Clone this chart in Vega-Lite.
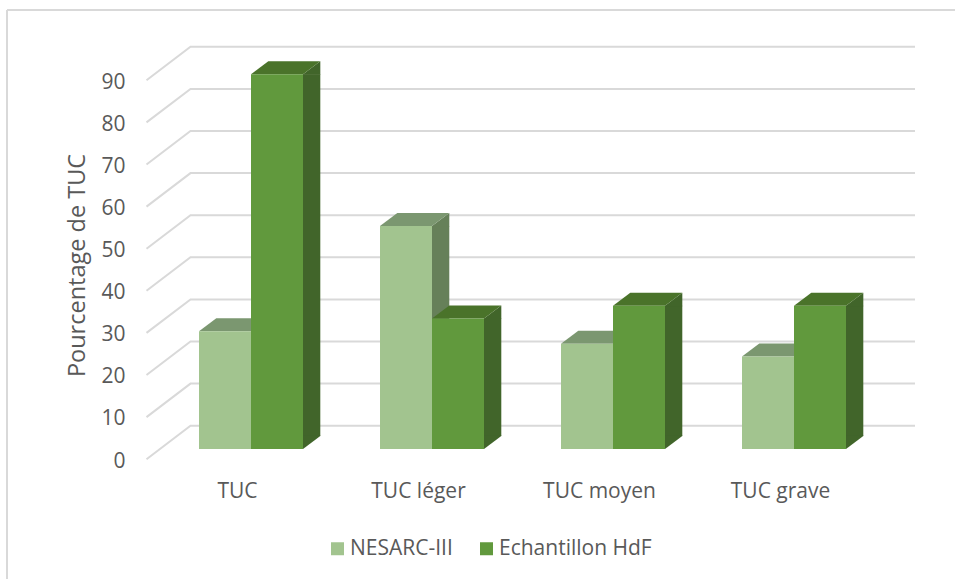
{
"$schema":"https://vega.github.io/schema/vega-lite/v6.json",
"width":948,"height":569,
"autosize":{"type":"none"},
"padding":{"left":7,"top":10,"right":0,"bottom":0},
"background":"#ffffff",
"view":{"stroke":null},
"config":{"font":"Open Sans"},
"layer":[
{"data":{"values":[{"a":1}]},"mark":{"type":"rule","stroke":"#D9D9D9","strokeWidth":2},"encoding":{"y":{"datum":104.28,"type":"quantitative","title":"Pourcentage de TUC","scale":{"domain":[-30.88,104.28],"range":[569,0],"nice":false,"zero":false},
  "axis":{"orient":"left","offset":-120,"values":[0,10,20,30,40,50,60,70,80,90],"ticks":false,"domain":false,"grid":false,"labelFontSize":21,"labelColor":"#595959","labelPadding":2,"labelOffset":12,"labelFont":"Open Sans","titleFontSize":23.5,"titleFontWeight":"normal","titleColor":"#595959","titleFont":"Open Sans","titleX":-38,"titleY":255}}}},
{"data":{"values":[{"a":1}]},"mark":{"type":"rule","stroke":"#D9D9D9","strokeWidth":2},"encoding":{"x":{"value":0}}},
{"data":{"values":[{"v":0},{"v":10},{"v":20},{"v":30},{"v":40},{"v":50},{"v":60},{"v":70},{"v":80},{"v":90}]},
 "mark":{"type":"point","shape":"M-104.5,10.2 L-60.5,-23.3 L664,-23.3","size":4,"filled":false,"stroke":"#D9D9D9","strokeWidth":2,"opacity":1},
 "encoding":{"x":{"datum":"TUC","type":"nominal","title":null,
  "scale":{"domain":["TUC","TUC léger","TUC moyen","TUC grave"],"range":[153.5,877.5],"paddingInner":0.4254,"paddingOuter":0.2127},
  "axis":{"orient":"bottom","offset":-100,"labelAngle":0,"ticks":false,"domain":false,"grid":false,"labelFontSize":21,"labelColor":"#595959","labelBaseline":"middle","labelPadding":12,"labelOffset":-13.5,"labelFont":"Open Sans"}},"y":{"field":"v","type":"quantitative","title":"Pourcentage de TUC"}}},
{"data":{"values":[
{"cat":"TUC","series":"NESARC-III","value":28},
{"cat":"TUC","series":"Echantillon HdF","value":89},
{"cat":"TUC léger","series":"NESARC-III","value":53},
{"cat":"TUC léger","series":"Echantillon HdF","value":31},
{"cat":"TUC moyen","series":"NESARC-III","value":25},
{"cat":"TUC moyen","series":"Echantillon HdF","value":34},
{"cat":"TUC grave","series":"NESARC-III","value":22},
{"cat":"TUC grave","series":"Echantillon HdF","value":34}
]},
"encoding":{
 "x":{"field":"cat","type":"nominal","sort":null,"title":null},
 "xOffset":{"field":"series","type":"nominal","sort":null,"scale":{"domain":["NESARC-III","Echantillon HdF"],"paddingInner":0,"paddingOuter":0}},
 "y":{"field":"value","type":"quantitative","stack":null,"title":"Pourcentage de TUC"}
},
"layer":[
 {"transform":[{"filter":"datum.series === 'NESARC-III'"}],"layer":[
  {"mark":{"type":"bar","size":17.3,"xOffset":8.65,"fill":"#668059"},"encoding":{"xOffset":null,"y2":{"datum":3.09}}},
  {"mark":{"type":"point","shape":"M26,0.5 L26,0 L43.3,-13 L43.3,0.5 Z","size":4,"filled":true,"fill":"#668059","opacity":1}},
  {"mark":{"type":"point","shape":"M26,0 L26,-13.5 L43.3,-13.5 L43.3,-13 Z","size":4,"filled":true,"fill":"#668059","opacity":1},"encoding":{"y":{"datum":0,"type":"quantitative","title":"Pourcentage de TUC"}}},
  {"mark":{"type":"point","shape":"M-26,0 L-8.7,-13 L43.3,-13 L26,0 Z","size":4,"filled":true,"fill":"#7B9770","opacity":1}},
  {"mark":{"type":"bar"},"encoding":{"y2":{"datum":0},"color":{"field":"series","type":"nominal","sort":null,"scale":{"domain":["NESARC-III","Echantillon HdF"],"range":["#A2C48F","#61993D"]},"legend":{"orient":"none","legendX":320,"legendY":528,"direction":"horizontal","title":null,"symbolType":"square","symbolSize":169,"symbolStrokeWidth":0,"labelFontSize":21,"labelColor":"#595959","labelFont":"Open Sans","labelOffset":2,"columnPadding":23,"columns":2}}}}
 ]},
 {"transform":[{"filter":"datum.series === 'Echantillon HdF'"}],"layer":[
  {"mark":{"type":"bar","size":17.3,"xOffset":60.65,"fill":"#41652A"},"encoding":{"xOffset":null,"y2":{"datum":3.09}}},
  {"mark":{"type":"point","shape":"M26,0.5 L26,0 L43.3,-13 L43.3,0.5 Z","size":4,"filled":true,"fill":"#41652A","opacity":1}},
  {"mark":{"type":"point","shape":"M26,0 L26,-13.5 L43.3,-13.5 L43.3,-13 Z","size":4,"filled":true,"fill":"#41652A","opacity":1},"encoding":{"y":{"datum":0,"type":"quantitative","title":"Pourcentage de TUC"}}},
  {"mark":{"type":"point","shape":"M-26,0 L-8.7,-13 L43.3,-13 L26,0 Z","size":4,"filled":true,"fill":"#4A732A","opacity":1}},
  {"mark":{"type":"bar"},"encoding":{"y2":{"datum":0},"color":{"field":"series","type":"nominal","sort":null}}}
 ]}
]}
]}
